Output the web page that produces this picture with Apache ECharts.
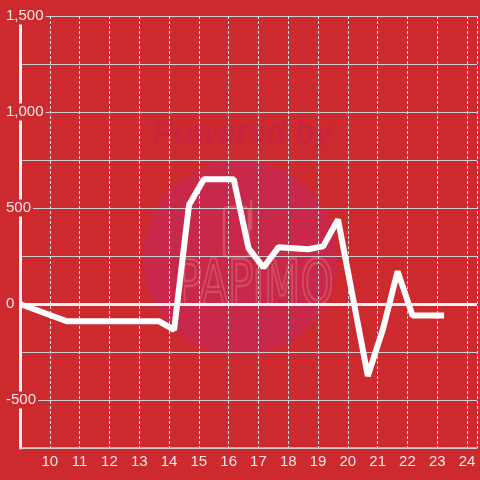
<!DOCTYPE html>
<html>
<head>
<meta charset="utf-8">
<script src="https://cdn.jsdelivr.net/npm/echarts@6/dist/echarts.min.js"></script>
<style>html,body{margin:0;padding:0;background:#cc2a2f;}#c{width:480px;height:480px;}</style>
</head>
<body>
<div id="c"></div>
<script>
// data
const xValues = [9, 10.57, 13.67, 14.17, 14.67, 15.17, 16.17, 16.67, 17.17, 17.67, 18.67, 19.17, 19.67, 20.67, 21.17, 21.67, 22.17, 23.23];
const yValues = [0, -90, -90, -135, 515, 650, 650, 290, 190, 295, 285, 300, 440, -375, -135, 170, -60, -60];
const yTickLabels = [-500, 0, 500, 1000, 1500];
const xTickLabels = [10, 11, 12, 13, 14, 15, 16, 17, 18, 19, 20, 21, 22, 23, 24];

const BG = '#cc2a2f';
const chart = echarts.init(document.getElementById('c'), null, {renderer: 'canvas'});
const fmtNum = v => v.toLocaleString('en-US');

chart.setOption({
  backgroundColor: BG,
  animation: false,
  textStyle: {fontFamily: 'Liberation Sans, Arial, sans-serif'},
  grid: {left: 20, right: 0, top: 16, bottom: 32, containLabel: false},
  graphic: [
    {type: 'circle', shape: {cx: 240, cy: 258, r: 97}, style: {fill: '#c8284a'}, z: -10, silent: true},
    {type: 'text', x: 242, y: 134, style: {text: 'Powered by', font: 'italic bold 32px Liberation Sans, Arial', fill: '#c6243f', align: 'center', verticalAlign: 'middle'}, z: -10, silent: true},
    {type: 'rect', shape: {x: 224, y: 207, width: 25, height: 50, r: 4}, style: {fill: 'none', stroke: 'rgba(225,110,120,0.55)', lineWidth: 2.5}, z: -10, silent: true},
    {type: 'line', shape: {x1: 251, y1: 200, x2: 251, y2: 230}, style: {stroke: 'rgba(225,110,120,0.55)', lineWidth: 2.5}, z: -10, silent: true},
    {type: 'text', x: 255, y: 288, scaleX: 0.68, style: {text: 'PAPiMO', font: '62px DejaVu Sans, sans-serif', fill: 'none', stroke: 'rgba(225,110,120,0.5)', lineWidth: 2.5, align: 'center', verticalAlign: 'middle'}, z: -10, silent: true}
  ],
  xAxis: {
    type: 'value', min: 9, max: 24.3333, interval: 1,
    axisLine: {show: true, onZero: false, lineStyle: {color: '#d0d0d0', width: 1.5}},
    axisTick: {show: false},
    splitLine: {show: true, lineStyle: {color: '#e8e8e8', width: 1, type: [3, 2]}},
    axisLabel: {
      color: '#f6e6e6', fontSize: 15, margin: 6,
      showMinLabel: true, showMaxLabel: true,
      formatter: v => xTickLabels.includes(v) ? String(v) : ''
    }
  },
  yAxis: {
    type: 'value', min: -750, max: 1500, interval: 250,
    axisLine: {show: true, lineStyle: {color: '#f2f2f2', width: 3}},
    axisTick: {show: false},
    splitLine: {show: true, lineStyle: {color: '#cfcfcf', width: 1}},
    axisLabel: {
      color: '#f6e6e6', fontSize: 15, margin: 14, align: 'left',
      backgroundColor: BG, padding: [1, 2, 1, 0],
      formatter: v => yTickLabels.includes(v) ? fmtNum(v) : ''
    }
  },
  series: [{
    type: 'line',
    data: xValues.map((x, i) => [x, yValues[i]]),
    showSymbol: false,
    lineStyle: {color: '#ffffff', width: 6},
    z: 5,
    markLine: {
      silent: true, symbol: ['none', 'none'],
      label: {show: false},
      lineStyle: {color: '#f4f4f4', width: 3, type: 'solid'},
      data: [{yAxis: 0}]
    }
  }]
});
</script>
</body>
</html>
